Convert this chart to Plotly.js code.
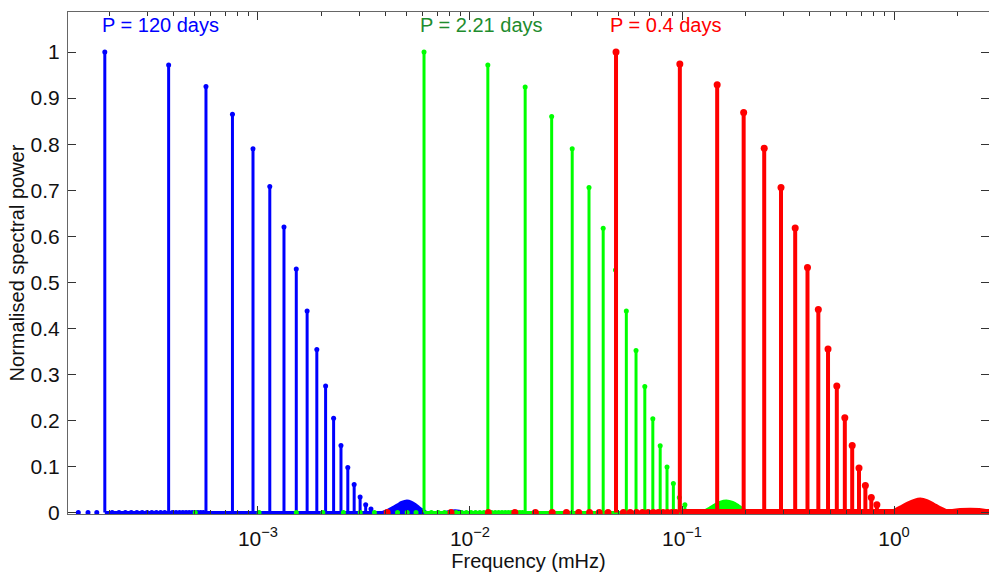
<!DOCTYPE html>
<html>
<head>
<meta charset="utf-8">
<script src="https://cdn.plot.ly/plotly-3.0.1.min.js"></script>
<style>html,body{margin:0;padding:0;background:#fff}#chart{width:989px;height:572px}</style>
</head>
<body>
<div id="chart"></div>
<script>
// ---------- DATA (frequency in mHz, normalised spectral power) ----------
// Harmonic peaks
const blueFreq  = [1.895e-4, 3.79e-4, 5.685e-4, 7.58e-4, 9.475e-4, 1.137e-3, 1.3265e-3, 1.516e-3, 1.7055e-3, 1.895e-3, 2.0845e-3, 2.274e-3, 2.4635e-3, 2.653e-3, 2.8425e-3, 3.032e-3, 3.2215e-3, 3.411e-3];
const bluePower = [1.0, 0.972, 0.925, 0.865, 0.79, 0.708, 0.62, 0.529, 0.438, 0.354, 0.275, 0.205, 0.146, 0.098, 0.061, 0.034, 0.017, 0.008];

const greenFreq  = [6.07e-3, 1.214e-2, 1.821e-2, 2.428e-2, 3.035e-2, 3.642e-2, 4.249e-2, 4.856e-2, 5.463e-2, 6.07e-2, 6.677e-2, 7.284e-2, 7.891e-2, 8.498e-2, 9.105e-2, 9.712e-2, 0.10319];
const greenPower = [1.0, 0.972, 0.924, 0.860, 0.790, 0.706, 0.6175, 0.527, 0.438, 0.352, 0.274, 0.204, 0.145, 0.099, 0.063, 0.033, 0.017];

const redFreq  = [0.04884, 0.09768, 0.14652, 0.19536, 0.2442, 0.29304, 0.34188, 0.39072, 0.43956, 0.4884, 0.53724, 0.58608, 0.63492, 0.68376, 0.7326, 0.78144, 0.83028];
const redPower = [1.0, 0.974, 0.929, 0.869, 0.791, 0.706, 0.618, 0.532, 0.441, 0.355, 0.275, 0.206, 0.146, 0.097, 0.059, 0.033, 0.017];

// Near-zero spectral samples between the harmonics (visible dots on the baseline)
const blueFloorFreq = [1.421e-4, 1.579e-4, 1.737e-4,
  2.053e-4, 2.211e-4, 2.369e-4, 2.526e-4, 2.684e-4, 2.842e-4, 3.0e-4, 3.158e-4, 3.316e-4, 3.474e-4, 3.632e-4,
  3.948e-4, 4.105e-4, 4.263e-4, 4.421e-4, 4.579e-4, 4.737e-4, 4.895e-4, 5.053e-4, 5.211e-4, 5.369e-4, 5.527e-4];
const blueFloorPower = [0, 0, 0,
  0, 0, 0, 0, 0, 0, 0, 0, 0, 0, 0,
  0, 0, 0, 0, 0, 0, 0, 0, 0, 0, 0];

const greenFloorFreq = [5.06e-4, 1.012e-3, 1.517e-3, 2.023e-3, 2.529e-3, 3.035e-3, 3.541e-3, 4.046e-3, 4.552e-3, 5.058e-3, 5.564e-3,
  6.575e-3, 7.081e-3, 7.587e-3, 8.093e-3, 8.599e-3, 9.104e-3, 9.61e-3, 1.0116e-2, 1.0622e-2, 1.1128e-2, 1.1633e-2,
  1.2645e-2, 1.3151e-2, 1.3657e-2, 1.4162e-2, 1.4668e-2, 1.5174e-2, 1.568e-2, 1.6186e-2, 1.6691e-2, 1.7197e-2, 1.7703e-2];
const greenFloorPower = [0, 0, 0, 0, 0, 0, 0, 0, 0, 0, 0,
  0, 0, 0, 0, 0, 0, 0, 0, 0, 0, 0,
  0, 0, 0, 0, 0, 0, 0, 0, 0, 0, 0];

const redFloorFreq = [4.07e-3, 8.14e-3, 1.221e-2, 1.628e-2, 2.035e-2, 2.442e-2, 2.849e-2, 3.256e-2, 3.663e-2, 4.07e-2, 4.477e-2,
  5.291e-2, 5.698e-2, 6.105e-2, 6.512e-2, 6.919e-2, 7.326e-2, 7.733e-2, 8.14e-2, 8.547e-2, 8.954e-2, 9.361e-2,
  0.10175, 0.10582, 0.10989, 0.11396, 0.11803, 0.1221];
const redFloorPower = [0, 0, 0, 0, 0, 0, 0, 0, 0, 0, 0,
  0, 0, 0, 0, 0, 0, 0, 0, 0, 0, 0,
  0, 0, 0, 0, 0, 0];

// Dense baseline stretches (samples too close to separate)
const blueBandFreq = [1.895e-4, 1.2e-2];   const blueBandPower = [0, 0];
const greenBandFreq = [6.07e-3, 0.3];      const greenBandPower = [0, 0];
const redBandFreq = [0.1, 3.0];            const redBandPower = [0, 0];

// Side lobes
const blueLobeFreq  = [3.89e-3, 4.1e-3, 4.33e-3, 4.57e-3, 4.77e-3, 5.04e-3, 5.27e-3, 5.5e-3, 5.74e-3, 6.0e-3, 6.2e-3];
const blueLobePower = [0, 0.004, 0.010, 0.016, 0.021, 0.024, 0.022, 0.017, 0.010, 0.004, 0];
const blueLobe2Freq  = [7.6e-3, 8.1e-3, 8.5e-3, 8.9e-3, 9.4e-3];
const blueLobe2Power = [0, 0.003, 0.004, 0.003, 0];
const greenLobeFreq  = [0.125, 0.133, 0.142, 0.151, 0.162, 0.173, 0.184, 0.195, 0.207];
const greenLobePower = [0, 0.007, 0.015, 0.021, 0.024, 0.021, 0.014, 0.006, 0];
const redLobeFreq  = [1.0, 1.08, 1.17, 1.26, 1.33, 1.42, 1.52, 1.63, 1.76];
const redLobePower = [0, 0.008, 0.017, 0.023, 0.025, 0.022, 0.015, 0.007, 0];
const redLobe2Freq  = [1.85, 2.05, 2.28, 2.52, 2.75];
const redLobe2Power = [0, 0.0025, 0.003, 0.0025, 0];

// Labels
const periodLabels = ['P = 120 days', 'P = 2.21 days', 'P = 0.4 days'];
const xTickVals = [1e-3, 1e-2, 1e-1, 1];
const xTickText = ['10<sup>−3</sup>', '10<sup>−2</sup>', '10<sup>−1</sup>', '10<sup>0</sup>'];
const yTickVals = [0, 0.1, 0.2, 0.3, 0.4, 0.5, 0.6, 0.7, 0.8, 0.9, 1];
const yTickText = ['0', '0.1', '0.2', '0.3', '0.4', '0.5', '0.6', '0.7', '0.8', '0.9', '1'];
const xTitle = 'Frequency (mHz)';
const yTitle = 'Normalised spectral power';

// ---------- STYLE ----------
const FONT = 'Liberation Sans, Arial, Helvetica, sans-serif';
const BLUE = '#0000ff', GREEN = '#00ff00', RED = '#ff0000';

function stems(freq, power, color, width) {
  const x = [], y = [];
  freq.forEach((f, i) => { x.push(f, f, null); y.push(0, power[i], null); });
  return {x, y, type: 'scatter', mode: 'lines', line: {color, width}, hoverinfo: 'skip'};
}
function dots(freq, power, color, size) {
  return {x: freq, y: power, type: 'scatter', mode: 'markers', marker: {color, size, line: {width: 0}}};
}
function band(freq, power, color, width) {
  return {x: freq, y: power, type: 'scatter', mode: 'lines', line: {color, width}};
}
function lobe(freq, power, color, width) {
  return {x: freq, y: power, type: 'scatter', mode: 'lines', fill: 'tozeroy', fillcolor: color,
          line: {color, width, shape: 'spline'}};
}

const traces = [
  band(blueBandFreq, blueBandPower, BLUE, 3),
  lobe(blueLobeFreq, blueLobePower, BLUE, 4),
  lobe(blueLobe2Freq, blueLobe2Power, BLUE, 3),
  stems(blueFreq, bluePower, BLUE, 3),
  dots(blueFloorFreq, blueFloorPower, BLUE, 5),
  dots(blueFreq, bluePower, BLUE, 5),

  band(greenBandFreq, greenBandPower, GREEN, 3),
  lobe(greenLobeFreq, greenLobePower, GREEN, 4),
  stems(greenFreq, greenPower, GREEN, 3),
  dots(greenFloorFreq, greenFloorPower, GREEN, 5),
  dots(greenFreq, greenPower, GREEN, 5),

  band(redBandFreq, redBandPower, RED, 7),
  lobe(redLobeFreq, redLobePower, RED, 7),
  lobe(redLobe2Freq, redLobe2Power, RED, 7),
  stems(redFreq, redPower, RED, 4),
  dots(redFloorFreq, redFloorPower, RED, 7),
  dots(redFreq, redPower, RED, 7)
];

const minorTicks = [];
[1e-4, 1e-3, 1e-2, 1e-1, 1].forEach(d => { for (let m = 2; m <= 9; m++) minorTicks.push(m * d); });

const layout = {
  width: 989, height: 572,
  margin: {l: 68, r: 0, t: 12, b: 58, pad: 0},
  paper_bgcolor: '#fff', plot_bgcolor: '#fff',
  showlegend: false,
  font: {family: FONT, size: 20, color: '#111'},
  xaxis: {
    type: 'log', range: [-3.896, 0.448],
    tickmode: 'array', tickvals: xTickVals, ticktext: xTickText,
    ticks: 'inside', ticklen: 8, tickwidth: 1, tickcolor: '#333',
    minor: {tickmode: 'array', tickvals: minorTicks, ticks: 'inside', ticklen: 4, tickwidth: 1, tickcolor: '#333', showgrid: false},
    showline: true, linecolor: '#666', linewidth: 1, mirror: 'ticks',
    showgrid: false, zeroline: false,
    ticklabelstandoff: 6,
    tickfont: {family: FONT, size: 21, color: '#111'},
    title: {text: xTitle, font: {family: FONT, size: 20, color: '#111'}, standoff: 0}
  },
  yaxis: {
    range: [-0.003, 1.087],
    tickmode: 'array', tickvals: yTickVals, ticktext: yTickText,
    ticks: 'inside', ticklen: 8, tickwidth: 1, tickcolor: '#333',
    showline: true, linecolor: '#666', linewidth: 1, mirror: 'ticks',
    showgrid: false, zeroline: false,
    ticklabelstandoff: 3,
    tickfont: {family: FONT, size: 21, color: '#111'},
    title: {text: yTitle, font: {family: FONT, size: 20, color: '#111'}, standoff: 0}
  },
  annotations: [
    {x: Math.log10(blueFreq[0]), y: 1.0586, xref: 'x', yref: 'y', text: periodLabels[0], showarrow: false,
     xanchor: 'left', yanchor: 'middle', xshift: -5, font: {family: FONT, size: 20, color: '#0000ff'}},
    {x: Math.log10(greenFreq[0]), y: 1.0586, xref: 'x', yref: 'y', text: periodLabels[1], showarrow: false,
     xanchor: 'left', yanchor: 'middle', xshift: -6, font: {family: FONT, size: 20, color: '#1e8c2e'}},
    {x: Math.log10(redFreq[0]), y: 1.0586, xref: 'x', yref: 'y', text: periodLabels[2], showarrow: false,
     xanchor: 'left', yanchor: 'middle', xshift: -8, font: {family: FONT, size: 20, color: '#ff0000'}}
  ]
};

Plotly.newPlot('chart', traces, layout, {staticPlot: true, displayModeBar: false});
</script>
</body>
</html>
